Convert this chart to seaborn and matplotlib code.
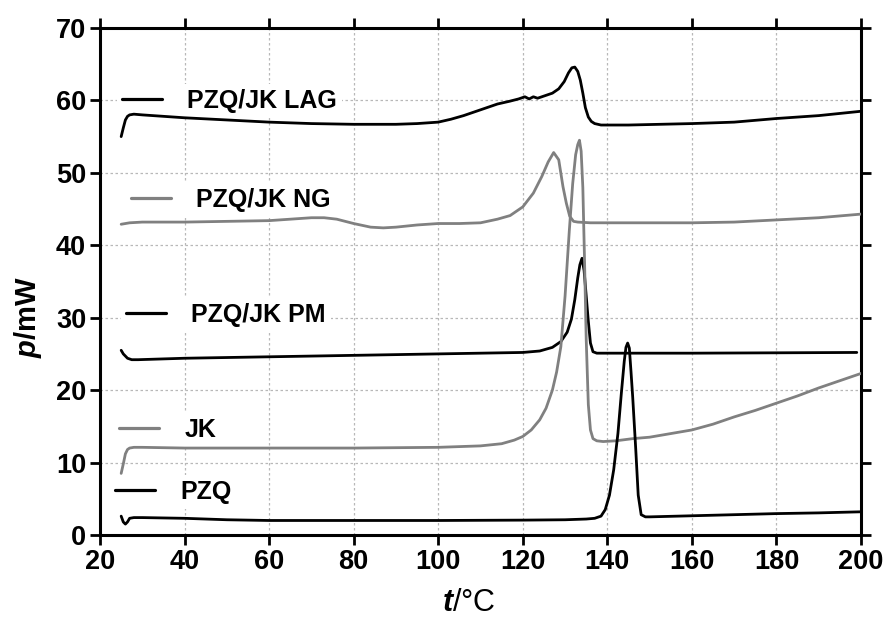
import numpy as np
import pandas as pd
import seaborn as sns
import matplotlib.pyplot as plt
from matplotlib.lines import Line2D

# DSC traces (t in degC, p in mW)
pzq_t = [25, 25.5, 26, 26.5, 27, 28, 30, 40, 50, 60, 80, 100, 120, 130, 135, 137, 138.5, 139.5,
         140.5, 141.5, 142.5, 143.3, 144, 144.4, 144.8, 145.2, 145.6, 146, 146.7, 147.3, 148, 149,
         150, 160, 170, 180, 190, 200]
pzq_p = [2.6, 1.8, 1.5, 1.8, 2.3, 2.4, 2.4, 2.3, 2.1, 2.0, 2.0, 2.0, 2.05, 2.1, 2.2, 2.3, 2.6, 3.5,
         5.5, 9.0, 14.0, 19.5, 24.0, 25.9, 26.5, 25.8, 22.5, 19.0, 12.0, 5.5, 2.8, 2.5,
         2.5, 2.65, 2.8, 2.95, 3.05, 3.2]

jk_t = [25, 25.5, 26, 26.5, 27, 28, 30, 40, 60, 80, 100, 110, 115, 118, 120, 122, 124, 125.5, 127,
        128, 129, 130, 131, 131.8, 132.5, 133, 133.4, 133.8, 134.2, 134.6, 135, 135.5, 136, 136.6,
        137.5, 139, 142, 146, 150, 155, 160, 165, 170, 175, 180, 185, 190, 195, 200]
jk_p = [8.5, 9.8, 11.2, 11.8, 12.0, 12.1, 12.1, 12.0, 12.0, 12.0, 12.1, 12.3, 12.6, 13.1, 13.6,
        14.5, 15.9, 17.5, 20.0, 22.5, 26.0, 33.0, 42.0, 48.5, 52.5, 53.9, 54.5, 53.0, 48.0, 38.0,
        27.0, 18.0, 14.5, 13.3, 13.0, 12.9, 13.0, 13.3, 13.5, 14.0, 14.5, 15.3, 16.3, 17.2, 18.2,
        19.2, 20.3, 21.3, 22.3]

pm_t = [25, 25.5, 26.5, 27.5, 29, 40, 60, 80, 100, 110, 120, 124, 127, 129, 130.5, 131.5, 132.3,
        133, 133.5, 134, 134.5, 135, 135.5, 136, 136.6, 137.5, 140, 160, 180, 199]
pm_p = [25.5, 25.0, 24.4, 24.2, 24.2, 24.4, 24.6, 24.8, 25.0, 25.1, 25.2, 25.4, 25.9, 26.7, 28.0,
        29.8, 32.5, 35.5, 37.3, 38.2, 36.5, 33.0, 29.5, 26.5, 25.3, 25.1, 25.1, 25.1, 25.15, 25.2]

ng_t = [25, 27, 30, 40, 50, 60, 65, 70, 73, 76, 80, 84, 87, 90, 95, 100, 105, 110, 114, 117, 120,
        122.5, 124.5, 126, 127.3, 128.5, 129.5, 130.3, 131.1, 132, 133, 136, 140, 150, 160, 170,
        180, 190, 200]
ng_p = [42.9, 43.1, 43.2, 43.2, 43.3, 43.4, 43.6, 43.8, 43.8, 43.6, 43.0, 42.5, 42.4, 42.5, 42.8,
        43.0, 43.0, 43.1, 43.6, 44.1, 45.3, 47.2, 49.5, 51.5, 52.8, 51.8, 48.1, 45.8, 44.0, 43.3,
        43.2, 43.1, 43.1, 43.1, 43.1, 43.2, 43.5, 43.8, 44.3]

lag_t = [25, 25.5, 26, 26.5, 27, 28, 30, 40, 50, 60, 70, 80, 90, 95, 100, 103, 106, 110, 114, 117,
         119, 120.5, 121.5, 122.5, 123.5, 125, 127, 128.5, 129.8, 130.8, 131.6, 132.3, 133, 133.6,
         134.2, 134.8, 135.5, 136.2, 137, 138.5, 145, 160, 170, 180, 190, 200]
lag_p = [55.0, 56.2, 57.3, 57.8, 58.0, 58.1, 58.0, 57.6, 57.3, 57.0, 56.8, 56.7, 56.7, 56.8, 57.0,
         57.4, 57.9, 58.7, 59.5, 59.9, 60.2, 60.5, 60.2, 60.5, 60.3, 60.6, 61.0, 61.6, 62.6, 63.8,
         64.5, 64.6, 64.0, 62.8, 61.0, 59.0, 57.7, 57.1, 56.8, 56.6, 56.6, 56.8, 57.0, 57.5, 57.9,
         58.5]

labels = ["PZQ/JK LAG", "PZQ/JK NG", "PZQ/JK PM", "JK", "PZQ"]
series = [(lag_t, lag_p), (ng_t, ng_p), (pm_t, pm_p), (jk_t, jk_p), (pzq_t, pzq_p)]
colors = ["black", "#808080", "black", "#808080", "black"]

sns.set_style("ticks")
plt.rcParams["font.family"] = ["Liberation Sans", "DejaVu Sans"]
plt.rcParams["text.color"] = "black"
plt.rcParams["axes.labelcolor"] = "black"
plt.rcParams["xtick.color"] = "black"
plt.rcParams["ytick.color"] = "black"
plt.rcParams["axes.edgecolor"] = "black"
plt.rcParams["mathtext.fontset"] = "custom"
plt.rcParams["mathtext.it"] = "Liberation Sans:bold:italic"
plt.rcParams["mathtext.rm"] = "Liberation Sans"

fig = plt.figure(figsize=(8.86, 6.23), dpi=100)
ax = fig.add_axes([0.1129, 0.1413, 0.8589, 0.8138])

for (t, p), c in zip(series, colors):
    df = pd.DataFrame({"t": t, "p": p})
    sns.lineplot(data=df, x="t", y="p", color=c, linewidth=2.0, sort=False,
                 estimator=None, ax=ax, zorder=3)

ax.set_xlim(20, 200)
ax.set_ylim(0, 70)
ax.set_xticks(np.arange(20, 201, 20))
ax.set_yticks(np.arange(0, 71, 10))
ax.grid(True, linestyle=(0, (2, 2)), color="#b8b8b8", linewidth=0.9)
ax.set_axisbelow(True)

for s in ax.spines.values():
    s.set_linewidth(2.2)
    s.set_visible(True)
ax.tick_params(direction="out", length=7, width=2, top=True, right=True,
               labelsize=19.5, pad=3)
for lab in ax.get_xticklabels() + ax.get_yticklabels():
    lab.set_fontweight("bold")

ax.set_xlabel(r"$t$/°C", fontsize=22)
ax.set_ylabel(r"$p$/mW", fontsize=21, fontweight="bold")
ax.xaxis.set_label_coords(0.485, -0.105)
ax.yaxis.set_label_coords(-0.074, 0.43)

# one small legend per trace, placed next to its curve
anchors = [(0.022, 0.856), (0.034, 0.661), (0.028, 0.434), (0.019, 0.207), (0.013, 0.085)]
for lab, c, anc in zip(labels, colors, anchors):
    h = Line2D([], [], color=c, linewidth=2.3)
    leg = ax.legend([h], [lab], loc="center left", bbox_to_anchor=anc,
                    frameon=True, framealpha=1, edgecolor="none", facecolor="white",
                    fancybox=False, handlelength=1.6, handletextpad=1.0,
                    borderpad=0.2, borderaxespad=0,
                    prop={"size": 18, "weight": "bold"})
    leg.set_zorder(2)
    ax.add_artist(leg)

fig.savefig("out.png", dpi=100)
